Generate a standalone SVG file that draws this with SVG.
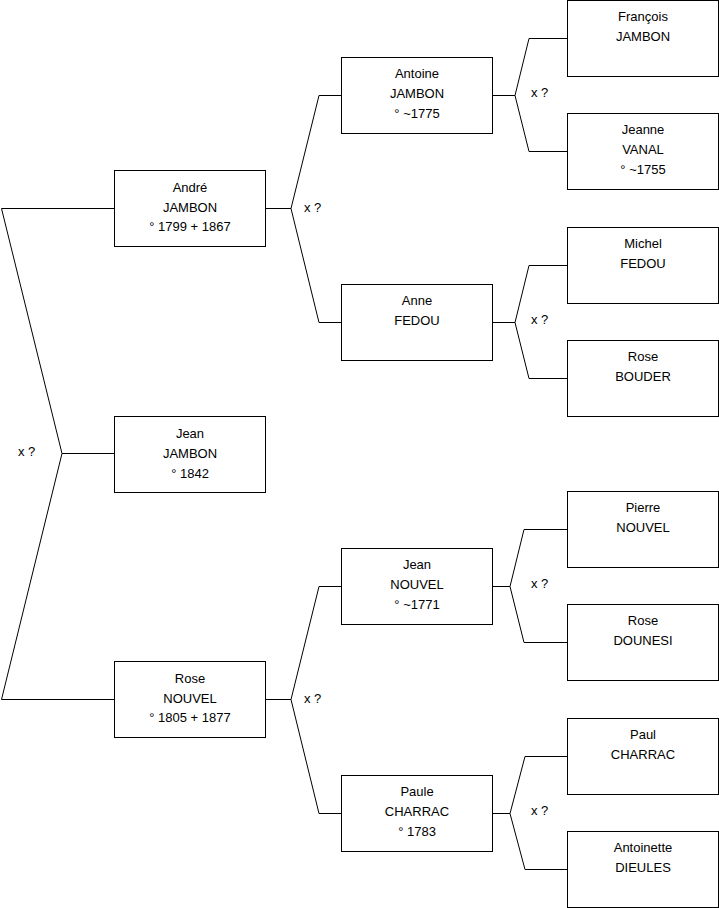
<svg xmlns="http://www.w3.org/2000/svg" width="719" height="908" viewBox="0 0 719 908">
<style>
rect{fill:#fff;stroke:#000;stroke-width:1}
text{font-family:"Liberation Sans",Arial,sans-serif;font-size:13px;fill:#000}
.c{text-anchor:middle}
path{fill:none;stroke:#000;stroke-width:1}
</style>
<rect x="0" y="0" width="719" height="908" style="stroke:none;fill:#fff"/>
<g id="connectors">
<path d="M114,208.5H1.5L62,453.5H114M62,453.5L1.5,699.5H114"/>
<path d="M265,208.5H291L319,95.5H341M291,208.5L319,322.5H341"/>
<path d="M265,699.5H291L319,586.5H341M291,699.5L319,813.5H341"/>
<path d="M492,95.5H515L529,38.5H567M515,95.5L529,151.5H567"/>
<path d="M492,322.5H515L529,265.5H567M515,322.5L529,378.5H567"/>
<path d="M492,586.5H510L524,529.5H567M510,586.5L524,642.5H567"/>
<path d="M492,813.5H510L525,756.5H567M510,813.5L525,869.5H567"/>
<text x="18" y="456">x ?</text>
<text x="304" y="212">x ?</text>
<text x="304" y="703">x ?</text>
<text x="531" y="97">x ?</text>
<text x="531" y="324">x ?</text>
<text x="531" y="588">x ?</text>
<text x="531" y="815">x ?</text>
</g>
<g id="jean-jambon"><rect x="114.5" y="416.5" width="151" height="76"/><text class="c" x="190" y="438">Jean</text><text class="c" x="190" y="458">JAMBON</text><text class="c" x="190" y="478">° 1842</text></g>
<g id="andre-jambon"><rect x="114.5" y="170.5" width="151" height="76"/><text class="c" x="190" y="192">André</text><text class="c" x="190" y="212">JAMBON</text><text class="c" x="190" y="231">° 1799 + 1867</text></g>
<g id="rose-nouvel"><rect x="114.5" y="661.5" width="151" height="76"/><text class="c" x="190" y="683">Rose</text><text class="c" x="190" y="703">NOUVEL</text><text class="c" x="190" y="722">° 1805 + 1877</text></g>
<g id="antoine-jambon"><rect x="341.5" y="57.5" width="151" height="76"/><text class="c" x="417" y="78">Antoine</text><text class="c" x="417" y="98">JAMBON</text><text class="c" x="417" y="118">° ~1775</text></g>
<g id="anne-fedou"><rect x="341.5" y="284.5" width="151" height="76"/><text class="c" x="417" y="305">Anne</text><text class="c" x="417" y="325">FEDOU</text></g>
<g id="jean-nouvel"><rect x="341.5" y="548.5" width="151" height="76"/><text class="c" x="417" y="569">Jean</text><text class="c" x="417" y="589">NOUVEL</text><text class="c" x="417" y="609">° ~1771</text></g>
<g id="paule-charrac"><rect x="341.5" y="775.5" width="151" height="76"/><text class="c" x="417" y="796">Paule</text><text class="c" x="417" y="816">CHARRAC</text><text class="c" x="417" y="836">° 1783</text></g>
<g id="francois-jambon"><rect x="567.5" y="0.5" width="151" height="76"/><text class="c" x="643" y="21">François</text><text class="c" x="643" y="41">JAMBON</text></g>
<g id="jeanne-vanal"><rect x="567.5" y="113.5" width="151" height="76"/><text class="c" x="643" y="134">Jeanne</text><text class="c" x="643" y="154">VANAL</text><text class="c" x="643" y="174">° ~1755</text></g>
<g id="michel-fedou"><rect x="567.5" y="227.5" width="151" height="76"/><text class="c" x="643" y="248">Michel</text><text class="c" x="643" y="268">FEDOU</text></g>
<g id="rose-bouder"><rect x="567.5" y="340.5" width="151" height="76"/><text class="c" x="643" y="361">Rose</text><text class="c" x="643" y="381">BOUDER</text></g>
<g id="pierre-nouvel"><rect x="567.5" y="491.5" width="151" height="76"/><text class="c" x="643" y="512">Pierre</text><text class="c" x="643" y="532">NOUVEL</text></g>
<g id="rose-dounesi"><rect x="567.5" y="604.5" width="151" height="76"/><text class="c" x="643" y="625">Rose</text><text class="c" x="643" y="645">DOUNESI</text></g>
<g id="paul-charrac"><rect x="567.5" y="718.5" width="151" height="76"/><text class="c" x="643" y="739">Paul</text><text class="c" x="643" y="759">CHARRAC</text></g>
<g id="antoinette-dieules"><rect x="567.5" y="831.5" width="151" height="76"/><text class="c" x="643" y="852">Antoinette</text><text class="c" x="643" y="872">DIEULES</text></g>
</svg>
